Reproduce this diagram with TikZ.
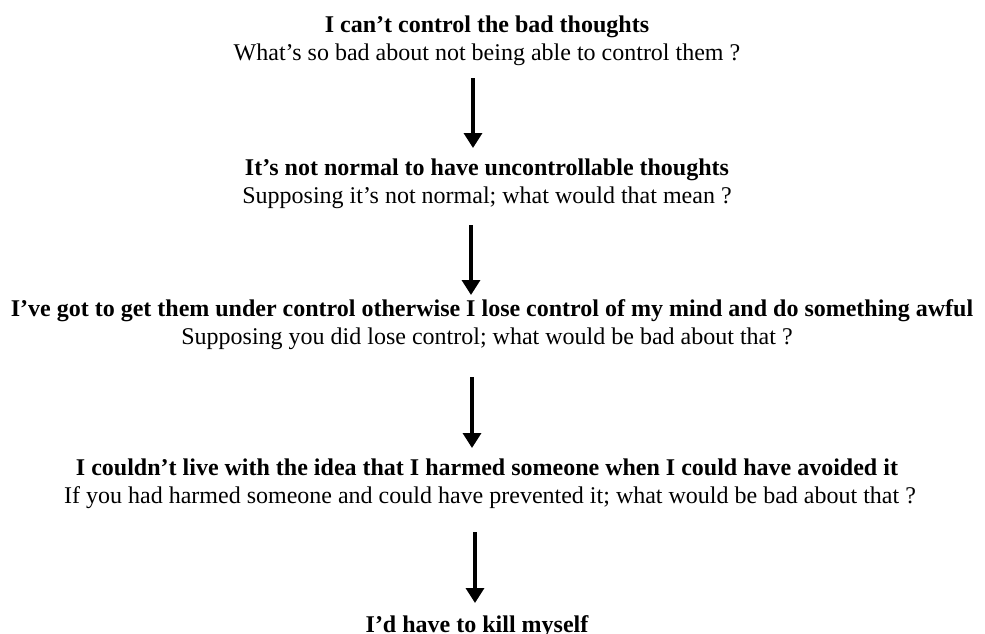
\documentclass[tikz,border=0pt]{standalone}
\usepackage{fontspec}
\setmainfont{Liberation Serif}
\usetikzlibrary{arrows.meta}
\begin{document}
\begin{tikzpicture}[x=1pt,y=-1pt,
  claim/.style={anchor=base,inner sep=0pt,font=\fontsize{24}{28}\selectfont\bfseries},
  probe/.style={anchor=base,inner sep=0pt,font=\fontsize{24}{28}\selectfont},
  downarrow/.style={line width=3.4pt,-{Triangle[width=18pt,length=15pt]}}]
\useasboundingbox (0,0) rectangle (985,633);
\node[claim] (t1) at (487,32) {I can’t control the bad thoughts};
\node[probe] (q1) at (487,60) {What’s so bad about not being able to control them ?};
\node[claim] (t2) at (487,175) {It’s not normal to have uncontrollable thoughts};
\node[probe] (q2) at (487,203) {Supposing it’s not normal; what would that mean ?};
\node[claim] (t3) at (492,316) {I’ve got to get them under control otherwise I lose control of my mind and do something awful};
\node[probe] (q3) at (487,344) {Supposing you did lose control; what would be bad about that ?};
\node[claim] (t4) at (487,475) {I couldn’t live with the idea that I harmed someone when I could have avoided it};
\node[probe] (q4) at (490,503) {If you had harmed someone and could have prevented it; what would be bad about that ?};
\node[claim] (t5) at (477,632) {I’d have to kill myself};
\coordinate (a1s) at (473,78);  \coordinate (a1e) at (473,148);
\coordinate (a2s) at (471,225); \coordinate (a2e) at (471,295);
\coordinate (a3s) at (472,377); \coordinate (a3e) at (472,448);
\coordinate (a4s) at (475,532); \coordinate (a4e) at (475,603);
\draw[downarrow] (a1s) -- (a1e);
\draw[downarrow] (a2s) -- (a2e);
\draw[downarrow] (a3s) -- (a3e);
\draw[downarrow] (a4s) -- (a4e);
\end{tikzpicture}
\end{document}
